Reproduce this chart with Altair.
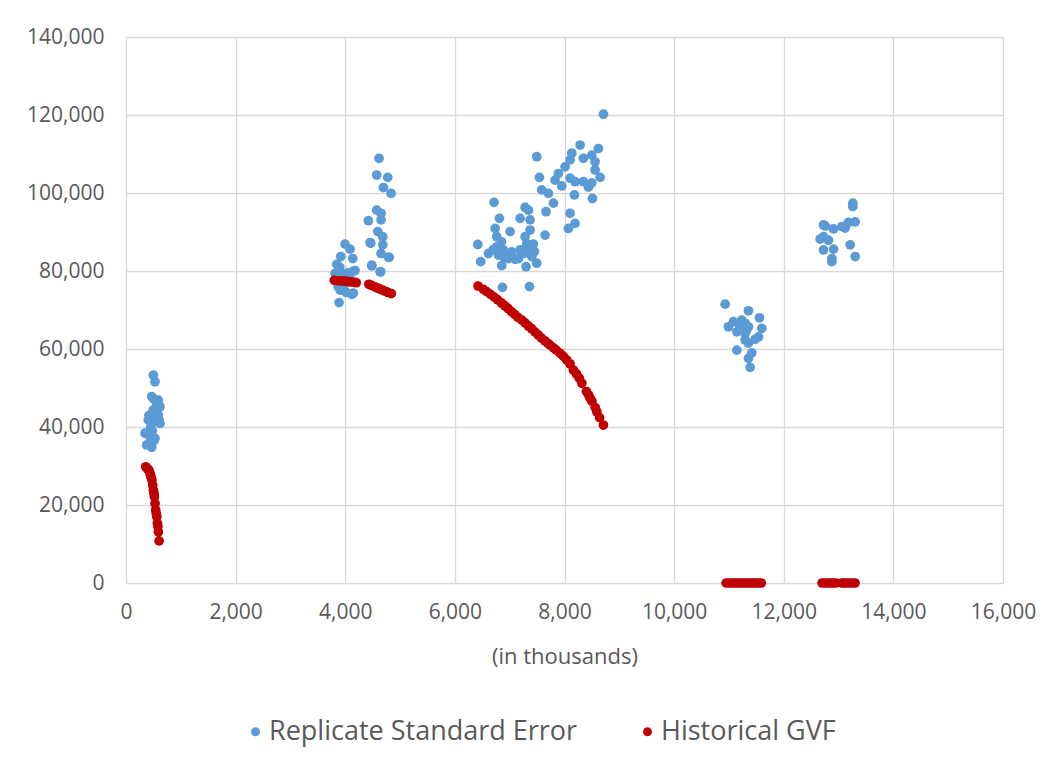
import altair as alt
import pandas as pd

# Replicate Standard Error (x in thousands, y)
rse_x = [498, 529, 469, 505, 589, 620, 498, 589, 407, 560, 620, 347, 438, 529, 377, 469,
         540, 520, 450, 560, 480, 580, 420, 600, 510,
         3996, 4088, 3918, 4137, 3845, 4179, 3814, 3905, 4148, 3887, 4465, 4484, 4635, 4787,
         4617, 4574, 4775, 4696, 4836, 4574, 4653, 4422, 4653, 4593, 4684, 4453, 4684, 4653,
         4805, 4484, 4647,
         3880, 3900, 3920, 3950, 3980, 4000, 4050, 4100, 4150, 3900, 3850, 3870, 3930, 4020, 4120,
         8711, 8285, 8619, 7494, 8133, 8102, 8345, 8498, 8558, 8011, 8558, 7889, 8650, 7542,
         7828, 8102, 8193, 8345, 8498, 7950, 8437, 7584, 7706, 8181, 8510, 7798, 6715, 7664,
         7281, 7342, 8102, 6813, 7190, 7372, 8193, 8071, 6734, 7007, 7372, 7646, 6764, 7281,
         7433, 6418, 6764, 6886, 7038, 7190, 7342, 6612, 6795, 6977, 7160, 7403, 6471, 6856,
         7299, 7494, 6868, 7360, 6850, 6920, 7250, 7310, 7450, 6700, 6900, 7100,
         10931, 11356, 11557, 11082, 11235, 11296, 10991, 11204, 11356, 11600, 11144, 11296,
         11538, 11296, 11478, 11356, 11144, 11417, 11356, 11387, 11250, 11320, 11180,
         13260, 13260, 13303, 13181, 13060, 12908, 12725, 12725, 12664, 12816, 13212, 12725,
         12908, 13303, 12878, 12878, 12760, 13120]
rse_y = [53300, 51600, 47800, 47200, 46900, 45200, 44400, 43100, 41800, 41400, 40900, 38400,
         37500, 37100, 35400, 34800, 44000, 42500, 40000, 46000, 39000, 45800, 43000, 42000, 36500,
         86900, 85600, 83700, 83200, 81700, 80100, 79400, 75100, 74300, 71900, 87100, 81500, 79800,
         83500, 108900, 104600, 104000, 101400, 99900, 95600, 94800, 92900, 93100, 90100, 88800,
         87300, 86700, 84500, 83500, 81300, 79800,
         79000, 80000, 78500, 77500, 76500, 78000, 79500, 77800, 80000, 81000, 78500, 76000, 75500,
         74500, 74000,
         120200, 112300, 111400, 109300, 110200, 108500, 108900, 109700, 108000, 106700, 105900,
         105000, 104000, 104000, 103300, 103800, 102900, 102900, 102600, 101800, 101500, 100800,
         99900, 99500, 98600, 97400, 97600, 95200, 96300, 95600, 94800, 93500, 93500, 93100, 92200,
         90900, 90900, 90100, 90500, 89200, 88800, 88800, 86900, 86800, 86200, 85400, 84900,
         85400, 85800, 84500, 84100, 83200, 83200, 83700, 82400, 81400, 81100, 82000, 75800,
         76000, 87500, 84000, 84500, 87000, 85000, 85500, 83500, 83000,
         71500, 69800, 68000, 67000, 67400, 66600, 65700, 65300, 65700, 65300, 64400, 64000,
         63100, 62300, 62500, 61500, 59700, 59000, 57600, 55300, 66000, 64800, 66500,
         97400, 96500, 92600, 92500, 91400, 90800, 91800, 88800, 88200, 87900, 86700, 85400,
         85600, 83700, 83200, 82400, 91500, 91000]

# Historical GVF (x in thousands, y)
gvf_x = [360, 390, 415, 432, 445, 460, 472, 488, 500, 510, 518, 530, 542, 552, 562, 573, 582,
         591, 604,
         3800, 3850, 3900, 3950, 4000, 4050, 4100, 4150, 4200,
         4430, 4480, 4530, 4580, 4630, 4680, 4730, 4780, 4840,
         6423, 6520, 6580, 6650, 6720, 6780, 6850, 6910, 6970, 7030, 7090, 7150, 7221, 7280,
         7340, 7400, 7460, 7520, 7580, 7640, 7700, 7737, 7800, 7850, 7920, 7980, 8040, 8100,
         8162, 8220, 8270, 8316, 8400, 8440, 8467, 8500, 8560, 8589, 8640, 8710,
         10950, 11000, 11050, 11100, 11150, 11200, 11250, 11300, 11350, 11400, 11450, 11500,
         11550, 11590,
         12700, 12750, 12800, 12850, 12900, 12950, 13060, 13100, 13150, 13200, 13250, 13300]
gvf_y = [29800, 29300, 29000, 28400, 27700, 27000, 26400, 25100, 23800, 23000, 22100, 20400,
         18700, 17800, 17000, 15300, 14500, 13100, 10800,
         77600, 77550, 77500, 77450, 77400, 77300, 77200, 77100, 77000,
         76600, 76300, 76000, 75700, 75400, 75100, 74800, 74500, 74200,
         76150, 75300, 74700, 74000, 73300, 72600, 71800, 71100, 70400, 69600, 68900, 68100,
         67400, 66700, 65900, 65200, 64400, 63600, 62800, 62100, 61400, 61000, 60300, 59700,
         58900, 58100, 57200, 56200, 54600, 53600, 52500, 51200, 49100, 48200, 47400, 46600,
         45000, 43900, 42400, 40500,
         0, 0, 0, 0, 0, 0, 0, 0, 0, 0, 0, 0, 0, 0,
         0, 0, 0, 0, 0, 0, 0, 0, 0, 0, 0, 0]

series_names = ["Replicate Standard Error", "Historical GVF"]
series_colors = ["#5B9BD5", "#C00000"]

df = pd.concat([
    pd.DataFrame({"x": rse_x, "y": rse_y, "series": series_names[0]}),
    pd.DataFrame({"x": gvf_x, "y": gvf_y, "series": series_names[1]}),
], ignore_index=True)

FONT = "Open Sans"
GRAY = "#595959"

chart = alt.Chart(df).mark_circle(size=95, opacity=1).encode(
    x=alt.X("x:Q", title="(in thousands)",
            scale=alt.Scale(domain=[0, 16000], nice=False),
            axis=alt.Axis(values=list(range(0, 16001, 2000)), format=",d", labelPadding=18,
                          labelFlush=False, labelOverlap=False,
                          titlePadding=24, titleFontSize=22)),
    y=alt.Y("y:Q", title=None,
            scale=alt.Scale(domain=[0, 140000], nice=False),
            axis=alt.Axis(values=list(range(0, 140001, 20000)), format=",d", labelPadding=22,
                          labelFlush=False, labelOverlap=False)),
    color=alt.Color("series:N", scale=alt.Scale(domain=series_names, range=series_colors),
                    sort=series_names,
                    legend=alt.Legend(title=None, orient="none", direction="horizontal",
                                      legendX=116, legendY=681, symbolSize=80,
                                      columnPadding=56, labelFontSize=27, labelFont=FONT,
                                      labelOffset=0,
                                      labelColor=GRAY, symbolType="circle", labelLimit=0)),
).properties(
    width=877, height=546,
    background="white",
    autosize=alt.AutoSizeParams(type="none"),
    padding={"left": 118, "top": 29, "right": 40, "bottom": 170},
).configure_axis(
    grid=True, gridColor="#D9D9D9", gridWidth=1.3, domain=False, ticks=False,
    labelFont=FONT, labelFontSize=21, labelColor=GRAY,
    titleFont=FONT, titleFontSize=21, titleColor=GRAY, titleFontWeight="normal",
).configure_view(stroke=None)

chart.save("out.html", embed_options={"renderer": "svg", "actions": False})
